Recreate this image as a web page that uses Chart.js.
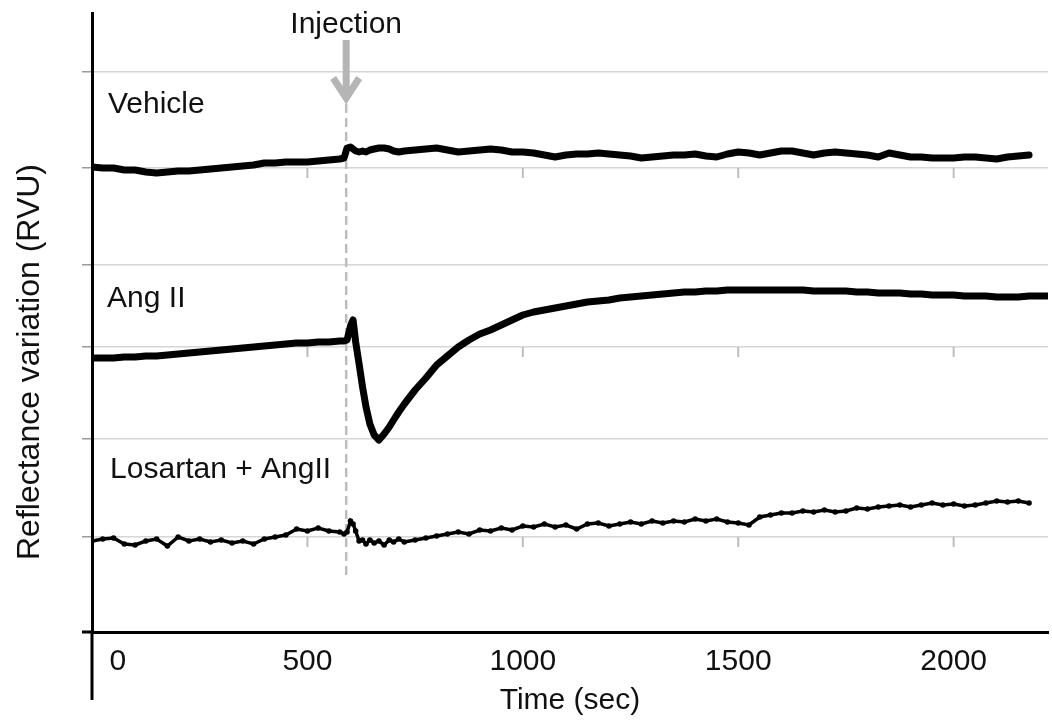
<!DOCTYPE html>
<html>
<head>
<meta charset="utf-8">
<title>Reflectance variation</title>
<script src="https://cdn.jsdelivr.net/npm/chart.js@4.4.0/dist/chart.umd.min.js"></script>
<style>
  html, body { margin: 0; padding: 0; background: #fff; }
  canvas { display: block; }
</style>
</head>
<body>
<canvas id="chart" width="1052" height="723"></canvas>
<script>
// time in seconds, shared by the three traces
const TIME = [
    0, 25, 50, 75, 100, 125, 150, 175, 200, 225, 250, 275, 300, 325, 350, 375, 400, 425, 450, 475, 500, 525, 550, 575,
    585, 592, 600, 606, 612, 620, 628, 636, 645, 655, 666, 678, 690, 700, 712, 725,
    750, 775, 800, 825, 850, 875, 900, 925, 950, 975, 1000, 1025, 1050, 1075, 1100, 1125, 1150, 1175, 1200, 1225,
    1250, 1275, 1300, 1325, 1350, 1375, 1400, 1425, 1450, 1475, 1500, 1525, 1550, 1575, 1600, 1625, 1650, 1675, 1700, 1725,
    1750, 1775, 1800, 1825, 1850, 1875, 1900, 1925, 1950, 1975, 2000, 2025, 2050, 2075, 2100, 2125, 2150, 2175, 2200,
    2220
];

// reflectance traces (arbitrary units, panels stacked on one axis)
const VEHICLE = [
    46.5, 46.4, 46.4, 46.2, 46.2, 46.0, 45.9, 46.0, 46.1, 46.1, 46.2, 46.3, 46.4, 46.5, 46.6, 46.7, 46.9, 46.9, 47.0, 47.0, 47.0, 47.1, 47.2, 47.3,
    47.4, 48.4, 48.5, 48.3, 48.1, 48.0, 48.1, 48.0, 48.2, 48.3, 48.4, 48.4, 48.3, 48.1, 48.0, 48.1,
    48.2, 48.3, 48.4, 48.2, 48.0, 48.1, 48.2, 48.3, 48.2, 48.0, 48.0, 47.9, 47.7, 47.5, 47.7, 47.8, 47.8, 47.9, 47.8, 47.7,
    47.6, 47.4, 47.5, 47.6, 47.7, 47.7, 47.8, 47.6, 47.5, 47.8, 48.0, 47.9, 47.7, 47.9, 48.1, 48.1, 47.9, 47.7, 47.9, 48.0,
    47.9, 47.8, 47.7, 47.5, 47.9, 47.7, 47.5, 47.5, 47.4, 47.4, 47.4, 47.5, 47.5, 47.4, 47.3, 47.5, 47.6, 47.7, null,
    null
];

const ANG_II = [
    27.4, 27.4, 27.4, 27.5, 27.5, 27.6, 27.6, 27.7, 27.8, 27.9, 28.0, 28.1, 28.2, 28.3, 28.4, 28.5, 28.6, 28.7, 28.8, 28.9, 28.9, 29.0, 29.0, 29.1,
    29.1, 29.2, 30.6, 31.2, 29.0, 26.8, 24.5, 22.5, 20.8, 19.7, 19.2, 19.8, 20.5, 21.2, 22.0, 22.8,
    24.2, 25.4, 26.7, 27.6, 28.5, 29.2, 29.8, 30.2, 30.7, 31.2, 31.7, 32.0, 32.2, 32.4, 32.6, 32.8, 33.0, 33.1, 33.2, 33.4,
    33.5, 33.6, 33.7, 33.8, 33.9, 34.0, 34.0, 34.1, 34.1, 34.2, 34.2, 34.2, 34.2, 34.2, 34.2, 34.2, 34.2, 34.1, 34.1, 34.1,
    34.1, 34.0, 34.0, 33.9, 33.9, 33.9, 33.8, 33.8, 33.7, 33.7, 33.7, 33.6, 33.6, 33.6, 33.5, 33.5, 33.5, 33.6, 33.6,
    33.6
];

const LOSARTAN = [
    9.1, 9.3, 9.4, 8.8, 8.7, 9.1, 9.3, 8.6, 9.5, 9.1, 9.3, 9.0, 9.2, 8.9, 9.1, 8.8, 9.3, 9.5, 9.7, 10.3, 10.1, 10.4, 10.1, 10.0,
    9.8, 10.0, 11.1, 10.8, 10.1, 9.1, 9.2, 8.8, 9.2, 8.9, 9.1, 8.7, 9.2, 9.0, 9.3, 9.0,
    9.2, 9.4, 9.6, 9.8, 10.0, 9.8, 10.2, 10.1, 10.4, 10.2, 10.6, 10.5, 10.8, 10.5, 10.7, 10.3, 10.8, 10.9, 10.6, 10.8,
    11.0, 10.8, 11.1, 10.9, 11.1, 11.0, 11.3, 11.1, 11.3, 11.0, 10.9, 10.7, 11.5, 11.7, 11.9, 11.9, 12.1, 12.0, 12.2, 12.0,
    12.1, 12.4, 12.3, 12.5, 12.6, 12.7, 12.5, 12.7, 12.9, 12.7, 12.8, 12.6, 12.7, 12.9, 13.1, 13.0, 13.1, 12.9, null,
    null
];

const X_TICKS = [0, 500, 1000, 1500, 2000];
const Y_GRID = [9.5, 19.3, 28.5, 36.7, 46.4, 56.0];
const PANEL_BASELINES = [46.4, 28.5, 9.5];
const INJECTION_TIME = 590;
const INJECTION_SPAN = [5.7, 52.9];

const FONT = '"Liberation Sans", Arial, sans-serif';
const TEXT = '#111';

const toPoints = (series) => TIME.map((t, i) => ({ x: t, y: series[i] }));

// annotations, small panel ticks and the axis overhangs of the pasted figure
const decorPlugin = {
    id: 'decor',
    beforeDatasetsDraw(chart) {
        const { ctx, scales: { x, y } } = chart;
        ctx.save();
        ctx.strokeStyle = '#bdbdbd';
        ctx.lineWidth = 2;
        PANEL_BASELINES.forEach(v => {
            const py = y.getPixelForValue(v);
            X_TICKS.slice(1).forEach(t => {
                const px = x.getPixelForValue(t);
                ctx.beginPath();
                ctx.moveTo(px, py);
                ctx.lineTo(px, py + 10);
                ctx.stroke();
            });
        });
        ctx.restore();
    },
    afterDraw(chart) {
        const { ctx, chartArea, scales: { x, y } } = chart;
        ctx.save();

        // y axis runs past the x axis, x axis pokes left of the y axis
        ctx.strokeStyle = '#000';
        ctx.lineWidth = 3;
        ctx.beginPath();
        ctx.moveTo(chartArea.left, chartArea.bottom);
        ctx.lineTo(chartArea.left, y.getPixelForValue(-6.8));
        ctx.moveTo(chartArea.left - 10, chartArea.bottom);
        ctx.lineTo(chartArea.left, chartArea.bottom);
        ctx.stroke();

        // injection arrow
        const ax = x.getPixelForValue(INJECTION_TIME);
        const tipY = y.getPixelForValue(53.1);
        ctx.strokeStyle = '#b5b5b5';
        ctx.lineWidth = 7;
        ctx.beginPath();
        ctx.moveTo(ax, y.getPixelForValue(59.2));
        ctx.lineTo(ax, tipY - 6);
        ctx.stroke();
        ctx.beginPath();
        ctx.moveTo(ax - 13, tipY - 23);
        ctx.lineTo(ax, tipY - 3);
        ctx.lineTo(ax + 13, tipY - 23);
        ctx.stroke();

        ctx.fillStyle = TEXT;
        ctx.font = `30px ${FONT}`;
        ctx.textBaseline = 'alphabetic';
        ctx.textAlign = 'center';
        ctx.fillText('Injection', ax, y.getPixelForValue(59.9));

        ctx.textAlign = 'left';
        ctx.fillText('Vehicle', x.getPixelForValue(37), y.getPixelForValue(51.9));
        ctx.fillText('Ang II', x.getPixelForValue(35), y.getPixelForValue(32.5));
        ctx.fillText('Losartan + AngII', x.getPixelForValue(42), y.getPixelForValue(15.4));

        // the 0 label sits clear of the y axis
        ctx.textAlign = 'center';
        ctx.textBaseline = 'middle';
        ctx.fillText('0', x.getPixelForValue(60), chartArea.bottom + 30);

        // y title
        ctx.translate(30, 362);
        ctx.rotate(-Math.PI / 2);
        ctx.font = `32px ${FONT}`;
        ctx.fillText('Reflectance variation (RVU)', 0, 0);

        ctx.restore();
    }
};

const traceStyle = {
    borderColor: '#000',
    borderWidth: 7,
    pointRadius: 0,
    tension: 0,
    borderJoinStyle: 'round',
    borderCapStyle: 'round',
    order: 0
};

new Chart(document.getElementById('chart'), {
    type: 'line',
    data: {
        datasets: [
            { label: 'Vehicle', data: toPoints(VEHICLE), ...traceStyle },
            { label: 'Ang II', data: toPoints(ANG_II), ...traceStyle },
            {
                label: 'Losartan + AngII',
                data: toPoints(LOSARTAN),
                borderColor: '#000',
                borderWidth: 3.5,
                pointRadius: 2.8,
                pointBorderWidth: 0,
                pointBackgroundColor: '#000',
                tension: 0,
                order: 0
            },
            {
                label: 'Injection',
                data: [{ x: INJECTION_TIME, y: INJECTION_SPAN[0] }, { x: INJECTION_TIME, y: INJECTION_SPAN[1] }],
                borderColor: '#bcbcbc',
                borderWidth: 2.5,
                borderDash: [9, 5],
                pointRadius: 0,
                order: 10
            }
        ]
    },
    options: {
        responsive: false,
        animation: false,
        devicePixelRatio: 1,
        layout: { padding: { top: 13, left: 0, right: 0, bottom: 0 } },
        plugins: {
            legend: { display: false },
            tooltip: { enabled: false }
        },
        scales: {
            x: {
                type: 'linear',
                min: 0,
                max: 2219,
                afterBuildTicks: (scale) => { scale.ticks = X_TICKS.map(v => ({ value: v })); },
                afterFit: (scale) => { scale.height = 91; },
                grid: { display: false, drawTicks: false },
                border: { display: true, color: '#000', width: 3 },
                ticks: {
                    padding: 12,
                    color: TEXT,
                    font: { family: FONT, size: 30 },
                    callback: (v) => (v === 0 ? '' : String(v))
                },
                title: {
                    display: true,
                    text: 'Time (sec)',
                    color: TEXT,
                    font: { family: FONT, size: 30 },
                    padding: { top: 0, bottom: 4 }
                }
            },
            y: {
                type: 'linear',
                min: 0,
                max: 61.9,
                afterBuildTicks: (scale) => { scale.ticks = Y_GRID.map(v => ({ value: v })); },
                afterFit: (scale) => { scale.width = 92; },
                grid: { color: '#d6d6d6', lineWidth: 1.5, tickLength: 10, tickColor: '#9a9a9a' },
                border: { display: true, color: '#000', width: 3 },
                ticks: { display: false }
            }
        }
    },
    plugins: [decorPlugin]
});
</script>
</body>
</html>
